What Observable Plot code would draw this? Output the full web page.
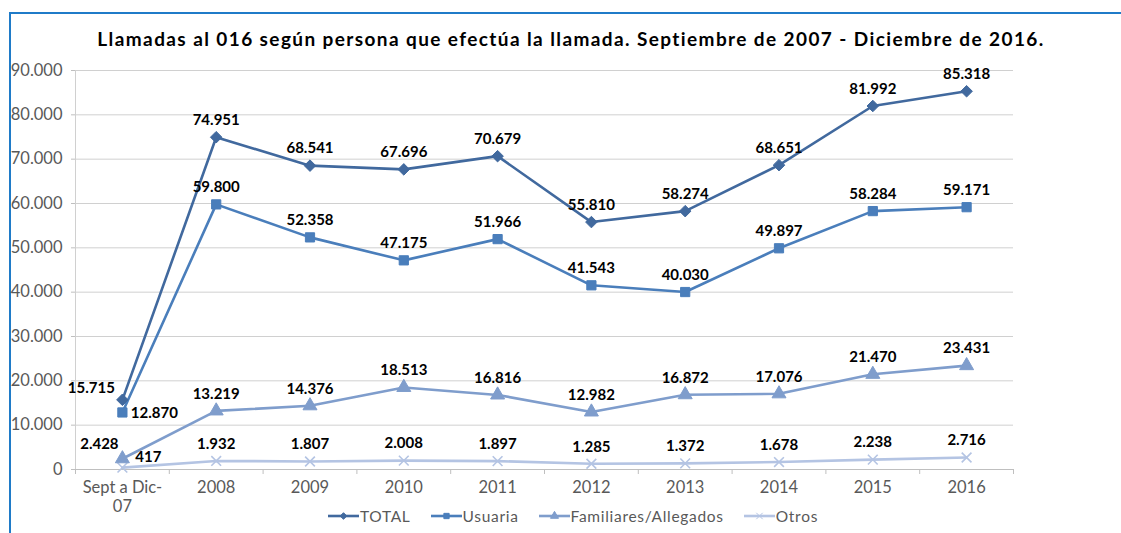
<!DOCTYPE html>
<html>
<head>
<meta charset="utf-8">
<script src="https://cdn.jsdelivr.net/npm/d3@7"></script>
<script src="https://cdn.jsdelivr.net/npm/@observablehq/plot@0.6"></script>
<style>
  html, body { margin: 0; padding: 0; background: #fff; }
  #wrap { position: relative; width: 1121px; height: 533px; overflow: hidden; font-family: Lato, "Open Sans", sans-serif; }
  #frame { position: absolute; left: 9px; top: 12px; width: 1300px; height: 700px; border-top: 2px solid #1f7bc8; border-left: 2px solid #1f7bc8; }
  #title { position: absolute; top: 28px; left: 0; width: 1142px; text-align: center; font-weight: bold; font-size: 19px; line-height: 22px; color: #000; }
  #title span { white-space: nowrap; }
  #chart { position: absolute; top: 50px; left: 0; }
  #legend { position: absolute; top: 507px; left: 0; width: 1146px; display: flex; justify-content: center; gap: 20px; font-size: 15.5px; letter-spacing: 0.7px; color: #595959; }
  .item { display: flex; align-items: center; }
  .item svg { display: block; margin-right: 1px; }
</style>
</head>
<body>
<div id="wrap">
  <div id="frame"></div>
  <div id="title"><span id="titletext">Llamadas al 016 según persona que efectúa la llamada. Septiembre de 2007 - Diciembre de 2016.</span></div>
  <div id="chart"></div>
  <div id="legend"></div>
</div>
<script>
const categories = ["Sept a Dic-\n07", "2008", "2009", "2010", "2011", "2012", "2013", "2014", "2015", "2016"];
const seriesNames = ["TOTAL", "Usuaria", "Familiares/Allegados", "Otros"];
const total      = [15715, 74951, 68541, 67696, 70679, 55810, 58274, 68651, 81992, 85318];
const usuaria    = [12870, 59800, 52358, 47175, 51966, 41543, 40030, 49897, 58284, 59171];
const familiares = [2428, 13219, 14376, 18513, 16816, 12982, 16872, 17076, 21470, 23431];
const otros      = [417, 1932, 1807, 2008, 1897, 1285, 1372, 1678, 2238, 2716];
const yTicks = [0, 10000, 20000, 30000, 40000, 50000, 60000, 70000, 80000, 90000];

const colors = ["#41699e", "#4a7ebb", "#7f9dcc", "#b4c4e3"];
const symbols = ["diamond2", "square", "triangle", "times"];
const sizes = [5.2, 5.2, 5.2, 4.5];

const values = [total, usuaria, familiares, otros];
const rows = [];
values.forEach((arr, s) => arr.forEach((v, i) => rows.push({series: seriesNames[s], s, i, x: i + 0.5, value: v})));

const loc = d3.formatLocale({decimal: ",", thousands: ".", grouping: [3], currency: ["", "€"]});
const fmt = loc.format(",d");

// fit title width to the reference span (~948px)
(function fitTitle() {
  const t = document.getElementById("titletext");
  const chars = t.textContent.length;
  const w = t.getBoundingClientRect().width;
  const target = 948;
  t.style.letterSpacing = ((target - w) / chars).toFixed(2) + "px";
})();

const marks = [
  Plot.gridY(yTicks, {stroke: "#d0d0d0", strokeOpacity: 1}),
  Plot.axisY(yTicks, {tickSize: 4, tickPadding: 9, stroke: "#bfbfbf", fill: "#595959", fontSize: 16.5, tickFormat: fmt, label: null}),
  Plot.ruleX([0], {stroke: "#d0d0d0"}),
  Plot.ruleY([0], {stroke: "#bfbfbf"}),
  Plot.axisX(d3.range(categories.length + 1), {tickSize: 5, tickFormat: () => "", stroke: "#bfbfbf", label: null}),
  Plot.axisX(categories.map((c, i) => i + 0.5), {tickSize: 0, tickPadding: 10, tickFormat: v => categories[Math.floor(v)], fill: "#595959", fontSize: 16.5, lineHeight: 1.15, label: null})
];

for (let s = seriesNames.length - 1; s >= 0; s--) {
  const d = rows.filter(r => r.s === s);
  marks.push(Plot.line(d, {x: "x", y: "value", stroke: colors[s], strokeWidth: 2.6}));
  marks.push(Plot.dot(d, {x: "x", y: "value", symbol: () => symbols[s], r: sizes[s],
    fill: symbols[s] === "times" ? "none" : colors[s], stroke: colors[s], strokeWidth: symbols[s] === "times" ? 1.6 : 1}));
}

// value labels
const labelStyle = {fill: "#000", fontWeight: "bold", fontSize: 15, fontFamily: "Lato, sans-serif"};
marks.push(Plot.text(rows.filter(r => r.i > 0), {x: "x", y: "value", text: r => fmt(r.value), dy: -17, ...labelStyle}));
const firstOffsets = [[-31, -12], [32, 1], [-23, -15], [26, -10]];
seriesNames.forEach((n, s) => {
  marks.push(Plot.text(rows.filter(r => r.i === 0 && r.s === s), {x: "x", y: "value", text: r => fmt(r.value), dx: firstOffsets[s][0], dy: firstOffsets[s][1], ...labelStyle}));
});

const chart = Plot.plot({
  width: 1121,
  height: 455,
  marginTop: 20,
  marginBottom: 36,
  marginLeft: 75,
  marginRight: 108,
  style: {fontFamily: "Lato, sans-serif", background: "transparent", overflow: "visible"},
  x: {type: "linear", domain: [0, categories.length], axis: null},
  y: {domain: [0, 90000], axis: null},
  marks
});
document.getElementById("chart").append(chart);

// legend
const legend = d3.select("#legend");
const symMap = {diamond2: d3.symbolDiamond2, square: d3.symbolSquare, triangle: d3.symbolTriangle, times: d3.symbolTimes};
seriesNames.forEach((n, s) => {
  const item = legend.append("div").attr("class", "item");
  const svg = item.append("svg").attr("width", 31).attr("height", 14);
  svg.append("line").attr("x1", 0).attr("x2", 31).attr("y1", 7).attr("y2", 7).attr("stroke", colors[s]).attr("stroke-width", 2.6);
  svg.append("path").attr("transform", "translate(15.5,7)")
    .attr("d", d3.symbol(symMap[symbols[s]], 28)())
    .attr("fill", symbols[s] === "times" ? "none" : colors[s])
    .attr("stroke", colors[s]).attr("stroke-width", 1);
  item.append("span").text(n);
});
</script>
</body>
</html>
